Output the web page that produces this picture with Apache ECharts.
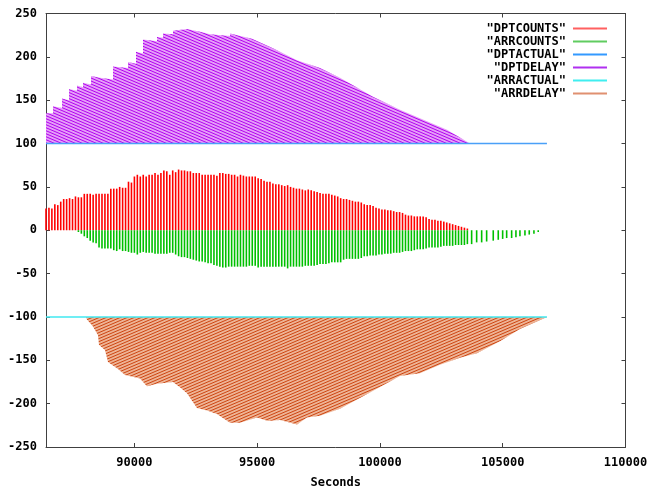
<!DOCTYPE html>
<html><head><meta charset="utf-8">
<script src="https://cdn.jsdelivr.net/npm/echarts@6/dist/echarts.min.js"></script>
<style>html,body{margin:0;padding:0;background:#fff}#c{width:647px;height:486px}</style>
</head><body><div id="c"></div><script>
// ---- data ----
const xTicks = [90000, 95000, 100000, 105000, 110000];
const countStart = 86400, countStep = 120;
const dptCounts = [25,26,25,30,29,33,36,36,37,36, 39,38,38,42,42,42,41,42,42,42,
  42,42,48,48,48,50,49,49,56,55, 62,64,62,64,62,64,64,66,64,66,
  69,68,64,69,67,70,69,69,68,68, 66,66,66,64,64,64,64,64,63,66,
  66,65,65,64,64,62,64,63,62,62, 62,62,60,59,57,56,56,54,53,53,
  52,51,52,50,49,48,48,47,46,47, 46,45,44,43,42,42,42,41,40,39,
  37,36,36,35,34,33,33,32,30,29, 29,28,26,25,24,24,23,23,22,21,
  21,20,18,17,17,16,16,16,16,15, 13,12,12,11,11,10,9,8,7,6,
  5,4,3,2];
const arrCounts = [0,0,0,0,0,0,0,0,0,0, 0,-2,-4,-7,-9,-12,-14,-15,-20,-21,
  -21,-21,-21,-23,-24,-22,-24,-24,-25,-26, -26,-28,-26,-25,-26,-26,-26,-27,-27,-27,
  -27,-27,-26,-26,-28,-30,-31,-31,-32,-33, -34,-35,-36,-36,-37,-38,-38,-40,-41,-42,
  -43,-43,-42,-42,-42,-42,-42,-42,-42,-41, -41,-41,-43,-42,-42,-42,-42,-42,-42,-42,
  -42,-42,-44,-42,-42,-42,-42,-42,-41,-41, -41,-41,-40,-39,-39,-39,-38,-37,-37,-37,
  -37,-34,-33,-33,-33,-33,-33,-32,-30,-30, -29,-29,-29,-28,-28,-27,-27,-27,-26,-26,
  -26,-25,-24,-24,-24,-23,-22,-22,-22,-21, -20,-20,-20,-20,-19,-18,-18,-18,-18,-17,
  -17,-17,-17,-16];
const arrTailTimes = [103734,103938,104142,104345,104614,104818,104997,105160,105363,105538,105701,105905,106080,106271,106446];
const arrTailCounts = [-16,-14,-14,-13,-12,-11,-10,-9,-9,-8,-7,-6,-5,-4,-2];
const dptDelayTimes = [86400,86685,86686,87052,87053,87337,87338,87662,87663,87907,87908,88232,88233,88599,
  89128,89129,89739,89740,90065,90066,90350,90351,90920,90921,91164,91165,91571,91572,92142,92143,
  92671,93078,93892,93893,94788,95643,96621,97557,98372,99715,100815,102729,103665];
const dptDelayValues = [135,135,143,141,152,150,163,161,167,165,170,168,178,176,
  174,189,187,194,192,206,204,220,218,223,222,227,226,230,232,234,
  229,226,224,227,221,210,196,187,176,154,139,116,100];
const arrDelayTimes = [88029,88069,88314,88517,88558,88802,88925,89332,89617,90228,90513,90920,91571,91856,
  92142,92549,92956,93363,93892,94300,94992,95440,95928,96621,97028,97557,98372,99593,
  100815,101629,102444,103258,103950,104887,105701,106801];
const arrDelayValues = [-100,-103,-111,-121,-132,-138,-152,-160,-167,-171,-180,-177,-175,-181,
  -188,-205,-208,-212,-222,-222,-216,-220,-219,-224,-216,-214,-206,-187,
  -168,-165,-155,-147,-142,-128,-114,-100];
const actualTimes = [86400, 106801];
const dptActualValues = [100, 100];
const arrActualValues = [-100, -100];

// ---- styling helpers ----
function hatch(bg, fg, w, h, down) {
  const c = document.createElement('canvas'); c.width = w; c.height = h;
  const g = c.getContext('2d');
  g.fillStyle = bg; g.fillRect(0, 0, w, h);
  g.strokeStyle = fg; g.lineWidth = 1;
  for (let k = -1; k <= 1; k++) {
    g.beginPath();
    if (down) { g.moveTo(0, k * h); g.lineTo(w, k * h + h); }
    else { g.moveTo(0, k * h + h); g.lineTo(w, k * h); }
    g.stroke();
  }
  return c;
}
const purplePat = hatch('#e6a0f8', '#b000f0', 7, 3, true);
const orangePat = hatch('#eeb496', '#cc4410', 7, 3, false);

const font = 'DejaVu Sans Mono';
const axisCol = '#404040';
const dptTimes = dptCounts.map((_, i) => countStart + i * countStep);
const redData = dptCounts.map((v, i) => [dptTimes[i], v]);
const greenData = arrCounts.map((v, i) => [dptTimes[i], v]).filter(d => d[1] !== 0)
  .concat(arrTailCounts.map((v, i) => [arrTailTimes[i], v]));
const zip = (a, b) => a.map((t, i) => [t, b[i]]);
const plain = v => String(v);

const chart = echarts.init(document.getElementById('c'), null, {renderer: 'canvas'});
chart.setOption({
  animation: false,
  backgroundColor: '#fff',
  grid: {left: 46, right: 21.5, top: 13.5, bottom: 39, show: false, containLabel: false, outerBoundsMode: 'none'},
  legend: {
    orient: 'vertical', right: 35, top: 17, align: 'right',
    itemWidth: 34, itemHeight: 2, itemGap: 0, icon: 'rect', selectedMode: false,
    textStyle: {fontFamily: font, fontWeight: 'bold', fontSize: 12, color: '#000', lineHeight: 13, padding: [0, 2, 0, 0]},
    data: [
      {name: '"DPTCOUNTS"', itemStyle: {color: '#ff6060'}},
      {name: '"ARRCOUNTS"', itemStyle: {color: '#60cc60'}},
      {name: '"DPTACTUAL"', itemStyle: {color: '#3399ff'}},
      {name: '"DPTDELAY"', itemStyle: {color: '#b030f0'}},
      {name: '"ARRACTUAL"', itemStyle: {color: '#40eef0'}},
      {name: '"ARRDELAY"', itemStyle: {color: '#e09070'}}
    ]
  },
  xAxis: [{
    type: 'value', min: 86400, max: 110000, position: 'bottom',
    name: 'Seconds', nameLocation: 'middle', nameGap: 30,
    nameTextStyle: {fontFamily: font, fontWeight: 'bold', fontSize: 12, color: '#000'},
    axisLine: {show: true, onZero: false, lineStyle: {color: axisCol, width: 1}},
    axisTick: {show: true, inside: true, length: 4, customValues: xTicks, lineStyle: {color: axisCol}},
    axisLabel: {show: true, customValues: xTicks, formatter: plain, fontFamily: font, fontWeight: 'bold', fontSize: 12, color: '#000', margin: 10, hideOverlap: false},
    splitLine: {show: false}
  }, {
    type: 'value', min: 86400, max: 110000, position: 'top',
    axisLine: {show: true, onZero: false, lineStyle: {color: axisCol, width: 1}},
    axisTick: {show: true, inside: true, length: 4, customValues: xTicks, lineStyle: {color: axisCol}},
    axisLabel: {show: false}, splitLine: {show: false}
  }],
  yAxis: [{
    type: 'value', min: -250, max: 250, interval: 50, position: 'left',
    axisLine: {show: true, onZero: false, lineStyle: {color: axisCol, width: 1}},
    axisTick: {show: true, inside: true, length: 4, lineStyle: {color: axisCol}},
    axisLabel: {formatter: plain, fontFamily: font, fontWeight: 'bold', fontSize: 12, color: '#000', margin: 9},
    splitLine: {show: false}
  }, {
    type: 'value', min: -250, max: 250, interval: 50, position: 'right',
    axisLine: {show: true, onZero: false, lineStyle: {color: axisCol, width: 1}},
    axisTick: {show: true, inside: true, length: 4, lineStyle: {color: axisCol}},
    axisLabel: {show: false}, splitLine: {show: false}
  }],
  series: [
    {name: '"DPTCOUNTS"', type: 'bar', barWidth: 1.6, barGap: '-100%', data: redData,
      itemStyle: {color: '#ff0000'}},
    {name: '"ARRCOUNTS"', type: 'bar', barWidth: 1.6, barGap: '-100%', data: greenData,
      itemStyle: {color: '#00c000'}},
    {name: '"DPTACTUAL"', type: 'line', data: zip(actualTimes, dptActualValues), symbol: 'none',
      lineStyle: {color: '#4aa0f8', width: 1.5}, itemStyle: {color: '#3399ff'}, z: 3},
    {name: '"DPTDELAY"', type: 'line', data: zip(dptDelayTimes, dptDelayValues), symbol: 'none',
      lineStyle: {width: 0, color: '#b030f0'}, itemStyle: {color: '#b030f0'},
      areaStyle: {color: {image: purplePat, repeat: 'repeat'}, origin: 100, opacity: 1}, z: 2},
    {name: '"ARRACTUAL"', type: 'line', data: zip(actualTimes, arrActualValues), symbol: 'none',
      lineStyle: {color: '#40e8f0', width: 1.5}, itemStyle: {color: '#40eef0'}, z: 3},
    {name: '"ARRDELAY"', type: 'line', data: zip(arrDelayTimes, arrDelayValues), symbol: 'none',
      lineStyle: {width: 0, color: '#e09070'}, itemStyle: {color: '#e09070'},
      areaStyle: {color: {image: orangePat, repeat: 'repeat'}, origin: -100, opacity: 1}, z: 2}
  ]
});
</script></body></html>
